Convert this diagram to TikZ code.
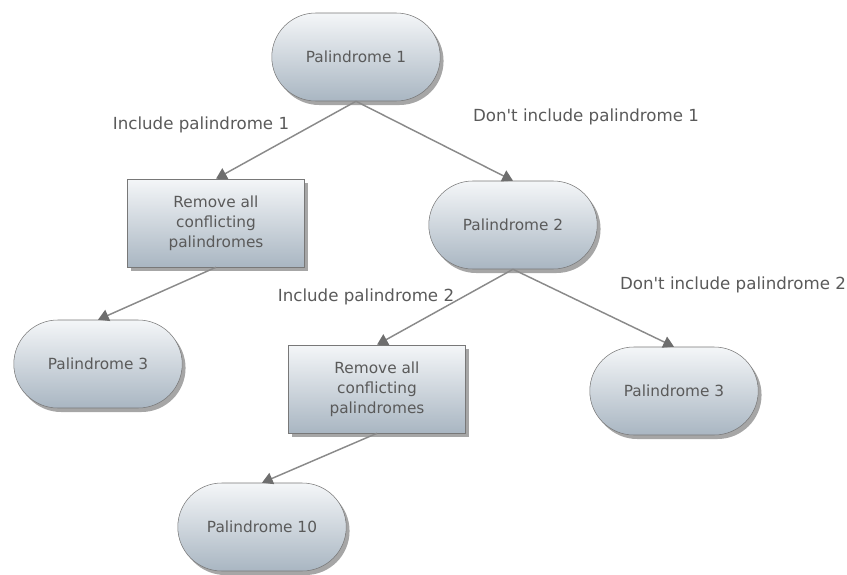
\documentclass[tikz,border=0pt]{standalone}
\usepackage{fontspec}
\setmainfont{DejaVu Sans}
\usepackage{tikz}
\usetikzlibrary{arrows.meta,positioning,shapes.misc,shadows}
\definecolor{cE}{HTML}{787878}
\definecolor{cT}{HTML}{5a5a5a}
\definecolor{cG}{HTML}{f4f6f8}
\definecolor{cB}{HTML}{a9b6c2}
\definecolor{cL}{HTML}{8a8a8a}
\definecolor{cH}{HTML}{6e6e6e}
\tikzset{
  pill/.style={rounded rectangle,draw=cE,top color=cG,bottom color=cB,
               minimum width=133pt,minimum height=66pt,text=cT,
               font=\fontsize{11.5}{15}\selectfont,
               drop shadow={shadow xshift=2.5pt,shadow yshift=-3pt,
                            fill=black,opacity=0.35}},
  box/.style={rectangle,draw=cE,top color=cG,bottom color=cB,
              minimum width=133pt,minimum height=66pt,text=cT,align=center,
              font=\fontsize{11.5}{15}\selectfont,
              drop shadow={shadow xshift=2.5pt,shadow yshift=-3pt,
                           fill=black,opacity=0.35}},
  lbl/.style={text=cT,font=\fontsize{12.5}{15}\selectfont},
  branch/.style={-{Triangle[length=8pt,width=9pt,color=cH]},
                 line width=1.1pt,cL},
}

\begin{document}
\begin{tikzpicture}[x=0.75pt,y=-0.75pt]
  \useasboundingbox (0,0) rectangle (847,575);
  % decision tree
  \node[pill] (p1)  at (356,57)  {Palindrome 1};
  \node[box]  (rm1) at (216,223) {Remove all\\conflicting\\palindromes};
  \node[pill] (p2)  at (513,225) {Palindrome 2};
  \node[pill] (p3a) at (98,364)  {Palindrome 3};
  \node[box]  (rm2) at (377,389) {Remove all\\conflicting\\palindromes};
  \node[pill] (p3b) at (674,391) {Palindrome 3};
  \node[pill] (p10) at (262,527) {Palindrome 10};
  \draw[branch] (p1.south) -- (rm1.north);
  \draw[branch] (p1.south) -- (p2.north);
  \draw[branch] (rm1.south) -- (p3a.north);
  \draw[branch] (p2.south) -- (rm2.north);
  \draw[branch] (p2.south) -- (p3b.north);
  \draw[branch] (rm2.south) -- (p10.north);
  \node[lbl] (in1) at (201,125) {Include palindrome 1};
  \node[lbl] (ex1) at (586,117) {Don\textquotesingle t include palindrome 1};
  \node[lbl] (in2) at (366,297) {Include palindrome 2};
  \node[lbl] (ex2) at (733,285) {Don\textquotesingle t include palindrome 2};
\end{tikzpicture}
\end{document}
